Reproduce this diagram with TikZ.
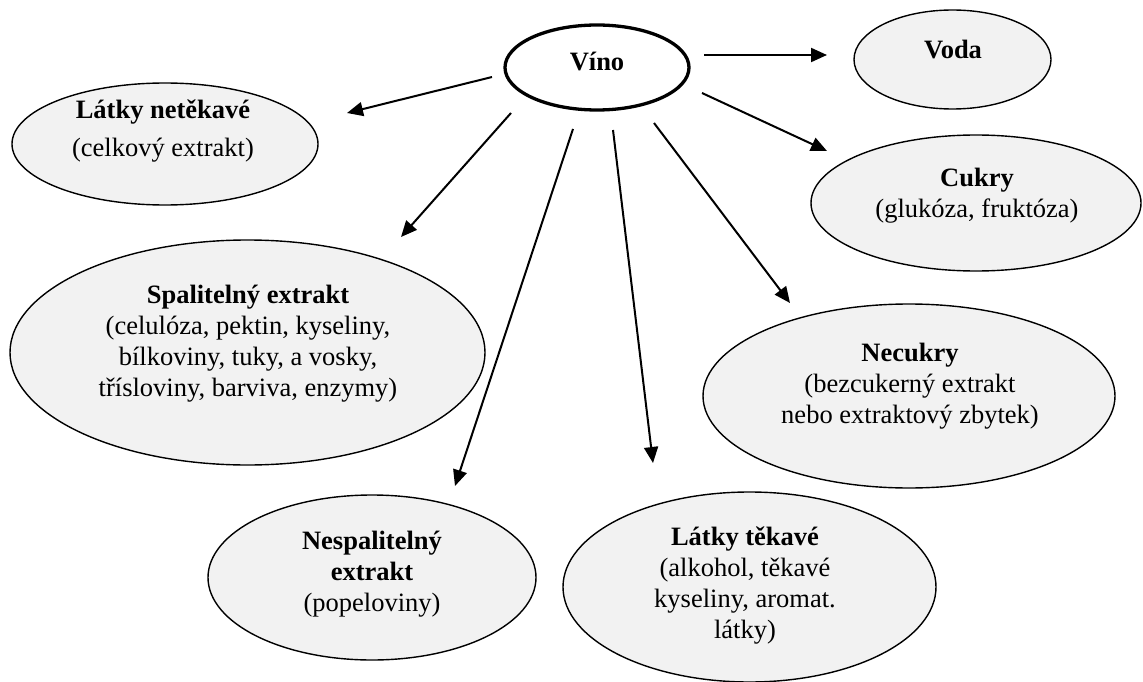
\documentclass[tikz,border=0pt]{standalone}
\usepackage{fontspec}
\setmainfont{Liberation Serif}
\usetikzlibrary{shapes.geometric,arrows.meta}
\definecolor{boxgray}{HTML}{F2F2F2}
\begin{document}
\begin{tikzpicture}[x=1pt,y=-1pt,
  oval/.style={ellipse,draw=black,line width=1.4pt,fill=boxgray,inner sep=0pt},
  lbl/.style={align=center,font=\fontsize{26.5}{31}\selectfont,inner sep=0pt},
  conn/.style={line width=2pt,-{Triangle[length=16pt,width=14pt]}}]
\useasboundingbox (0,0) rectangle (1143,682);

% ellipses
\node[oval,fill=white,line width=3.3pt,minimum width=184pt,minimum height=85pt] (vino) at (597,67.5) {};
\node[oval,minimum width=197pt,minimum height=99pt] (voda) at (952.5,59.5) {};
\node[oval,minimum width=330pt,minimum height=136pt] (cukry) at (976,203) {};
\node[oval,minimum width=306pt,minimum height=122pt] (netek) at (165,144) {};
\node[oval,minimum width=475pt,minimum height=225pt] (spal) at (247.5,352.5) {};
\node[oval,minimum width=328pt,minimum height=165pt] (nespal) at (372,577.5) {};
\node[oval,minimum width=373pt,minimum height=190pt] (tek) at (749.5,587) {};
\node[oval,minimum width=412pt,minimum height=184pt] (necukry) at (909,396) {};

% texts
\node[lbl] (vino-t) at (597,64) {\textbf{Víno}\strut};
\node[lbl] (voda-t) at (953,52) {\textbf{Voda}\strut};
\node[lbl] (cukry-t) at (977,196) {\textbf{Cukry}\strut\\(glukóza, fruktóza)\strut};
\node[lbl] (netek-t) at (163,131) {\textbf{Látky netěkavé}\strut\\[7pt](celkový extrakt)\strut};
\node[lbl] (spal-t) at (248,344) {\textbf{Spalitelný extrakt}\strut\\(celulóza, pektin, kyseliny,\strut\\bílkoviny, tuky, a vosky,\strut\\třísloviny, barviva, enzymy)\strut};
\node[lbl] (nespal-t) at (372,574) {\textbf{Nespalitelný}\strut\\\textbf{extrakt}\strut\\(popeloviny)\strut};
\node[lbl] (tek-t) at (745,586) {\textbf{Látky těkavé}\strut\\(alkohol, těkavé\strut\\kyseliny, aromat.\strut\\látky)\strut};
\node[lbl] (necukry-t) at (910,386) {\textbf{Necukry}\strut\\(bezcukerný extrakt\strut\\nebo extraktový zbytek)\strut};

% connector end points
\coordinate (a1s) at (704,55);  \coordinate (a1e) at (827,55);
\coordinate (a2s) at (702,93);  \coordinate (a2e) at (827,151);
\coordinate (a3s) at (492,77);  \coordinate (a3e) at (347,113);
\coordinate (a4s) at (511,113); \coordinate (a4e) at (401,237);
\coordinate (a5s) at (573,129); \coordinate (a5e) at (455,486);
\coordinate (a6s) at (613,130); \coordinate (a6e) at (653,463);
\coordinate (a7s) at (654,123); \coordinate (a7e) at (790,303);

\draw[conn] (a1s) -- (a1e);
\draw[conn] (a2s) -- (a2e);
\draw[conn] (a3s) -- (a3e);
\draw[conn] (a4s) -- (a4e);
\draw[conn] (a5s) -- (a5e);
\draw[conn] (a6s) -- (a6e);
\draw[conn] (a7s) -- (a7e);
\end{tikzpicture}
\end{document}
